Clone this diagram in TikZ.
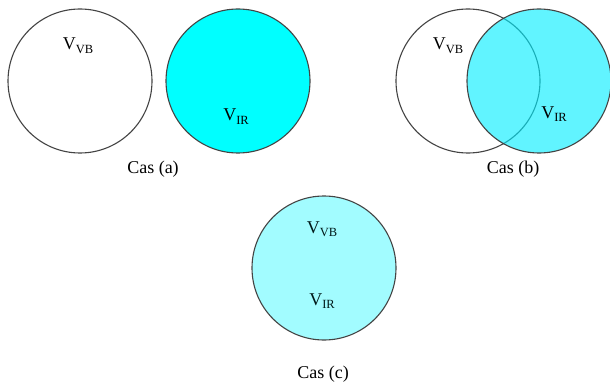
\documentclass[tikz,border=0pt]{standalone}
\usepackage{fontspec}
\setmainfont{Liberation Serif}
\definecolor{cya}{HTML}{00FFFF}
\definecolor{cyb}{HTML}{00EEFF}
\definecolor{cyc}{HTML}{A2FCFF}
\definecolor{edge}{HTML}{444444}
\newcommand{\vsub}[1]{V\raisebox{-0.22em}{\fontsize{12.5}{12.5}\selectfont #1}}
\begin{document}
\begin{tikzpicture}[x=1pt,y=-1pt,
  circ/.style={circle,draw=edge,line width=1.1pt,minimum size=144pt,inner sep=0pt},
  lab/.style={font=\rmfamily\fontsize{18}{20}\selectfont,inner sep=0pt,anchor=base}]
\useasboundingbox[fill=white] (0,0) rectangle (610,385);
% Cas (a)
\node[circ,fill=white] (a1) at (80,81) {};
\node[circ,fill=cya] (a2) at (238,81) {};
\node[lab] (la1) at (78,50) {\vsub{VB}};
\node[lab] (la2) at (236,121) {\vsub{IR}};
\node[lab] (ca) at (153,173) {Cas (a)};
% Cas (b)
\node[circ,fill=white] (b1) at (468,81) {};
\node[circ,fill=cyb,fill opacity=0.62,text opacity=1] (b2) at (539,81) {};
\node[lab] (lb1) at (448,50) {\vsub{VB}};
\node[lab] (lb2) at (554,118) {\vsub{IR}};
\node[lab] (cb) at (513,173) {Cas (b)};
% Cas (c)
\node[circ,fill=cyc] (c1) at (324,268) {};
\node[lab,text=black!80!teal] (lc1) at (322,233) {\vsub{VB}};
\node[lab,text=black!80!teal] (lc2) at (322,305) {\vsub{IR}};
\node[lab] (cc) at (323,378) {Cas (c)};
\end{tikzpicture}
\end{document}
